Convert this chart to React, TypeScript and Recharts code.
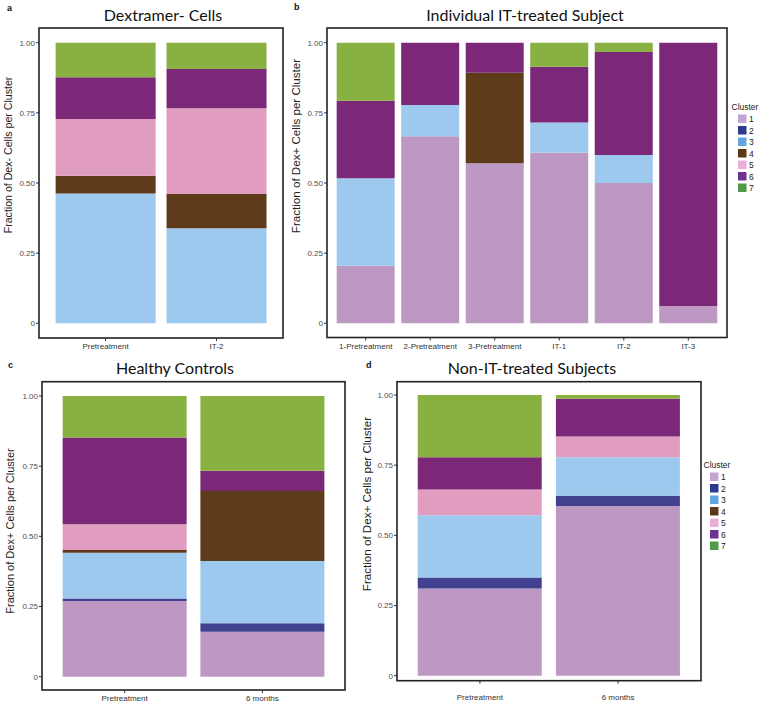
import React from 'react';
import { BarChart, Bar, XAxis, YAxis } from 'recharts';

// ---------- data ----------
const clusters = ['1', '2', '3', '4', '5', '6', '7'];
const yTicks = [0, 0.25, 0.5, 0.75, 1];

// Panel a: Dextramer- Cells
const catsA = ['Pretreatment', 'IT-2'];
const aC1 = [0, 0];
const aC2 = [0, 0];
const aC3 = [0.463, 0.339];
const aC4 = [0.063, 0.122];
const aC5 = [0.202, 0.305];
const aC6 = [0.149, 0.14];
const aC7 = [0.123, 0.094];

// Panel b: Individual IT-treated Subject
const catsB = ['1-Pretreatment', '2-Pretreatment', '3-Pretreatment', 'IT-1', 'IT-2', 'IT-3'];
const bC1 = [0.205, 0.667, 0.57, 0.608, 0.5, 0.062];
const bC2 = [0, 0, 0, 0, 0, 0];
const bC3 = [0.312, 0.111, 0, 0.108, 0.1, 0];
const bC4 = [0, 0, 0.323, 0, 0, 0];
const bC5 = [0, 0, 0, 0, 0, 0];
const bC6 = [0.276, 0.222, 0.107, 0.198, 0.367, 0.938];
const bC7 = [0.207, 0, 0, 0.086, 0.033, 0];

// Panel c: Healthy Controls
const catsC = ['Pretreatment', '6 months'];
const cC1 = [0.27, 0.16];
const cC2 = [0.009, 0.03];
const cC3 = [0.163, 0.222];
const cC4 = [0.009, 0.25];
const cC5 = [0.092, 0];
const cC6 = [0.309, 0.072];
const cC7 = [0.148, 0.266];

// Panel d: Non-IT-treated Subjects
const catsD = ['Pretreatment', '6 months'];
const dC1 = [0.311, 0.605];
const dC2 = [0.039, 0.036];
const dC3 = [0.222, 0.137];
const dC4 = [0, 0];
const dC5 = [0.091, 0.074];
const dC6 = [0.115, 0.135];
const dC7 = [0.222, 0.013];

// ---------- styles ----------
const barColors = ['#bc98c3', '#41418f', '#9dc9ee', '#5e3b1b', '#e09dbf', '#7b2879', '#88b142'];
const legendColors = ['#c2a5d3', '#2c3a8c', '#60a5dd', '#5a3818', '#e9afd8', '#6e3391', '#4d9b47'];
const SANS = '"Liberation Sans", Arial, sans-serif';
const TITLE_FONT = 'Lato, "Open Sans", sans-serif';

function buildRows(cats: string[], series: number[][]) {
  return cats.map((name, i) => {
    const row: Record<string, any> = { name };
    series.forEach((s, k) => {
      row['c' + (k + 1)] = s[i];
    });
    return row;
  });
}

const rowsA = buildRows(catsA, [aC1, aC2, aC3, aC4, aC5, aC6, aC7]);
const rowsB = buildRows(catsB, [bC1, bC2, bC3, bC4, bC5, bC6, bC7]);
const rowsC = buildRows(catsC, [cC1, cC2, cC3, cC4, cC5, cC6, cC7]);
const rowsD = buildRows(catsD, [dC1, dC2, dC3, dC4, dC5, dC6, dC7]);

type Frame = { left: number; right: number; top: number; bottom: number; y0: number; y1: number; labelOff: number };

const frameA: Frame = { left: 39, right: 283, top: 28, bottom: 338, y0: 323.3, y1: 42.7, labelOff: 5 };
const frameB: Frame = { left: 327, right: 727, top: 28, bottom: 337.5, y0: 323.3, y1: 42.7, labelOff: 6 };
const frameC: Frame = { left: 42, right: 345, top: 381.7, bottom: 690, y0: 676.7, y1: 396, labelOff: 5 };
const frameD: Frame = { left: 397, right: 701, top: 381.7, bottom: 680.7, y0: 675.7, y1: 395, labelOff: 14 };

const W = 760;
const H = 704;

function Panel({ rows, f }: { rows: any[]; f: Frame }) {
  const scale = f.y0 - f.y1;
  const dmin = -(f.bottom - f.y0) / scale;
  const dmax = 1 + (f.y1 - f.top) / scale;
  const yAxisW = 40;
  const xAxisH = 30;
  const plotW = f.right - f.left;
  const unit = plotW / (rows.length + 0.2);
  const pad = unit * 0.1;
  return (
    <div style={{ position: 'absolute', left: 0, top: 0 }}>
      <BarChart
        width={W}
        height={H}
        data={rows}
        margin={{ left: f.left - yAxisW, top: f.top, right: W - f.right, bottom: H - f.bottom - xAxisH }}
        barCategoryGap="5%"
      >
        <XAxis
          dataKey="name"
          height={xAxisH}
          axisLine={false}
          tickLine={{ stroke: '#333', strokeWidth: 1 }}
          tickSize={3}
          tickMargin={f.labelOff - 3}
          interval={0}
          padding={{ left: pad, right: pad }}
          tick={{ fontSize: 8, fill: '#333', fontFamily: SANS }}
        />
        <YAxis
          type="number"
          width={yAxisW}
          domain={[dmin, dmax]}
          allowDataOverflow
          ticks={yTicks}
          axisLine={false}
          tickLine={{ stroke: '#333', strokeWidth: 1 }}
          tickSize={3}
          tickMargin={1}
          tickFormatter={(v: number) => (v === 0 ? '0' : v.toFixed(2))}
          tick={{ fontSize: 8, fill: '#4d4d4d', fontFamily: SANS }}
        />
        {clusters.map((c, i) => (
          <Bar key={c} dataKey={'c' + c} stackId="s" fill={barColors[i]} isAnimationActive={false} />
        ))}
      </BarChart>
    </div>
  );
}

function Legend({ x, y }: { x: number; y: number }) {
  return (
    <g>
      <text x={x} y={y} fontSize={8.5} fill="#222" fontFamily={SANS} dominantBaseline="central">
        Cluster
      </text>
      {clusters.map((c, i) => (
        <g key={c}>
          <rect x={x + 6.5} y={y + 11.5 * (i + 1) - 4} width={8.5} height={8.5} fill={legendColors[i]} />
          <text x={x + 17.5} y={y + 11.5 * (i + 1) + 0.5} fontSize={8.5} fill="#222" fontFamily={SANS} dominantBaseline="central">
            {c}
          </text>
        </g>
      ))}
    </g>
  );
}

function FrameRect({ f }: { f: Frame }) {
  return <rect x={f.left} y={f.top} width={f.right - f.left} height={f.bottom - f.top} fill="none" stroke="#222" strokeWidth={1.6} />;
}

function YLabel({ x, y, size, text }: { x: number; y: number; size: number; text: string }) {
  return (
    <text
      x={x}
      y={y}
      transform={`rotate(-90 ${x} ${y})`}
      textAnchor="middle"
      dominantBaseline="central"
      fontSize={size}
      fill="#222"
      fontFamily={SANS}
    >
      {text}
    </text>
  );
}

function Title({ x, y, text }: { x: number; y: number; text: string }) {
  return (
    <text x={x} y={y} textAnchor="middle" dominantBaseline="central" fontSize={16} fill="#111" fontFamily={TITLE_FONT}>
      {text}
    </text>
  );
}

function Letter({ x, y, t }: { x: number; y: number; t: string }) {
  return (
    <text x={x} y={y} dominantBaseline="central" fontSize={9} fontWeight="bold" fill="#111" fontFamily={SANS}>
      {t}
    </text>
  );
}

export default function App() {
  return (
    <div style={{ position: 'absolute', left: 0, top: 0, width: W, height: H, background: '#fff', overflow: 'hidden' }}>
      <Panel rows={rowsA} f={frameA} />
      <Panel rows={rowsB} f={frameB} />
      <Panel rows={rowsC} f={frameC} />
      <Panel rows={rowsD} f={frameD} />
      <svg width={W} height={H} style={{ position: 'absolute', left: 0, top: 0, pointerEvents: 'none' }}>
        <FrameRect f={frameA} />
        <FrameRect f={frameB} />
        <FrameRect f={frameC} />
        <FrameRect f={frameD} />
        <Title x={163} y={14} text="Dextramer- Cells" />
        <Title x={525} y={14} text="Individual IT-treated Subject" />
        <Title x={175} y={367} text="Healthy Controls" />
        <Title x={532} y={367} text="Non-IT-treated Subjects" />
        <Letter x={7} y={8} t="a" />
        <Letter x={294} y={7} t="b" />
        <Letter x={8} y={365} t="c" />
        <Letter x={366} y={365} t="d" />
        <YLabel x={8} y={155} size={10.6} text="Fraction of Dex- Cells per Cluster" />
        <YLabel x={295} y={146} size={11.6} text="Fraction of Dex+ Cells per Cluster" />
        <YLabel x={10} y={531} size={11} text="Fraction of Dex+ Cells per Cluster" />
        <YLabel x={366} y={504} size={11.6} text="Fraction of Dex+ Cells per Cluster" />
        <Legend x={731.5} y={107} />
        <Legend x={703.5} y={465} />
      </svg>
    </div>
  );
}
